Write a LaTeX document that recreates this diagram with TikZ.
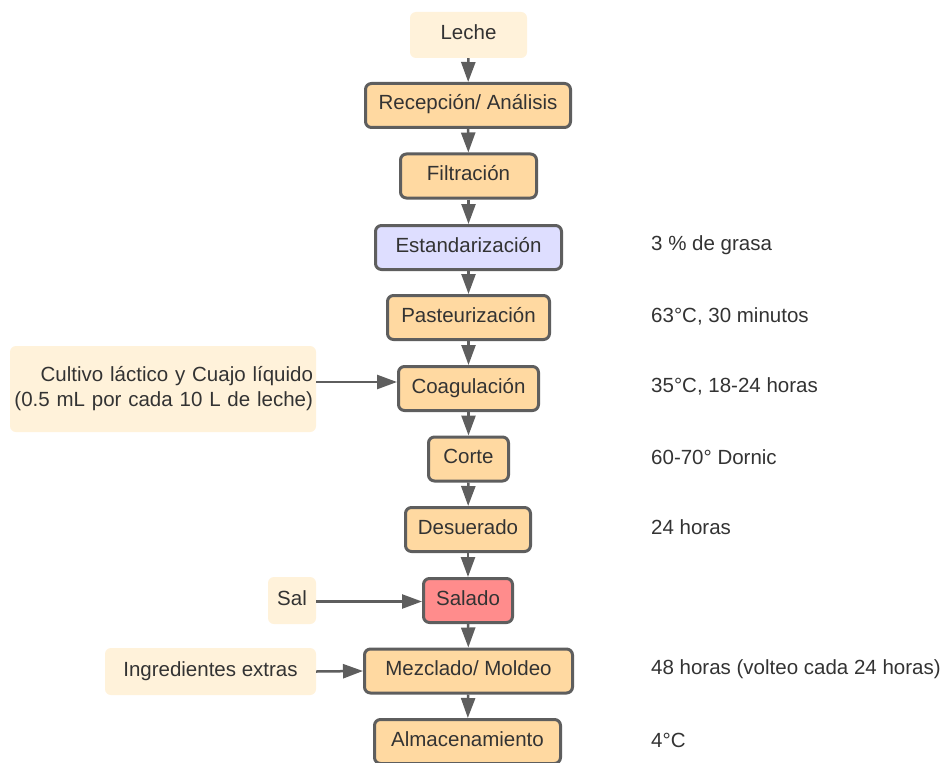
\documentclass[tikz,border=0pt]{standalone}
\usepackage{fontspec}
\setmainfont{Liberation Sans}
\usetikzlibrary{arrows.meta}
\definecolor{edgegray}{HTML}{5E5E5E}
\definecolor{txtgray}{HTML}{333333}
\definecolor{procfill}{HTML}{FFD9A1}
\definecolor{stdfill}{HTML}{DEDEFF}
\definecolor{saltfill}{HTML}{FF8C8C}
\definecolor{inputfill}{HTML}{FFF2DA}
\tikzset{
  base/.style={rounded corners=6pt, inner sep=0pt, text=txtgray,
    font=\fontsize{20.5}{25}\selectfont, align=center},
  oneline/.style={text height=13pt, text depth=4pt},
  proc/.style={base, oneline, draw=edgegray, line width=3pt, fill=procfill,
    minimum height=44pt},
  inbox/.style={base, fill=inputfill},
  note/.style={text=txtgray, font=\fontsize{20.5}{25}\selectfont,
    anchor=west, inner sep=0pt},
  flow/.style={draw=edgegray, line width=2.5pt,
    -{Triangle[length=20pt,width=14pt]}}
}
\begin{document}
\begin{tikzpicture}[x=1pt,y=-1pt]
\useasboundingbox[fill=white] (0,0) rectangle (949,762);

% main process column
\node[inbox, oneline, minimum width=117pt, minimum height=46pt] (leche) at (468.5,35) {Leche};
\node[proc, minimum width=205pt] (recep) at (468,105.5) {Recepción/ Análisis};
\node[proc, minimum width=136pt] (filt) at (468.5,176) {Filtración};
\node[proc, minimum width=186pt, fill=stdfill] (estand) at (468.5,247.5) {Estandarización};
\node[proc, minimum width=162pt] (paste) at (468.5,317.5) {Pasteurización};
\node[proc, minimum width=140pt] (coag) at (468.5,388.5) {Coagulación};
\node[proc, minimum width=80pt] (corte) at (468.5,459) {Corte};
\node[proc, minimum width=125pt] (desu) at (468,529.5) {Desuerado};
\node[proc, minimum width=89pt, fill=saltfill] (salado) at (468,600.5) {Salado};
\node[proc, minimum width=208pt] (mezcl) at (468.5,671) {Mezclado/ Moldeo};
\node[proc, minimum width=186pt] (almac) at (467.5,741.5) {Almacenamiento};

% inputs on the left
\node[inbox, minimum width=306pt, minimum height=86pt, align=right,
      text width=300pt] (cult) at (163,389)
  {Cultivo láctico y Cuajo líquido\\(0.5 mL por cada 10 L de leche)};
\node[inbox, oneline, minimum width=48pt, minimum height=47pt] (sal) at (292,600.5) {Sal};
\node[inbox, oneline, minimum width=211pt, minimum height=47pt] (ingr) at (210.5,671.5) {Ingredientes extras};

% process conditions on the right
\node[note] (n1) at (651,245) {3 \% de grasa};
\node[note] (n2) at (651,316) {63°C, 30 minutos};
\node[note] (n3) at (651,386.5) {35°C, 18-24 horas};
\node[note] (n4) at (651,457) {60-70° Dornic};
\node[note] (n5) at (651,527.5) {24 horas};
\node[note] (n6) at (651,669) {48 horas (volteo cada 24 horas)};
\node[note] (n7) at (651,740) {4°C};

% vertical flow
\draw[flow] (leche) -- (recep);
\draw[flow] (recep) -- (filt);
\draw[flow] (filt) -- (estand);
\draw[flow] (estand) -- (paste);
\draw[flow] (paste) -- (coag);
\draw[flow] (coag) -- (corte);
\draw[flow] (corte) -- (desu);
\draw[flow] (desu) -- (salado);
\draw[flow] (salado) -- (mezcl);
\draw[flow] (mezcl) -- (almac);

% side inputs
\draw[flow] ([yshift=7pt]cult.east) -- ([yshift=6.5pt]coag.west);
\draw[flow] ([yshift=-1pt]sal.east) -- ([yshift=-1pt]salado.west);
\draw[flow] (ingr.east) -- (mezcl.west);
\end{tikzpicture}
\end{document}
